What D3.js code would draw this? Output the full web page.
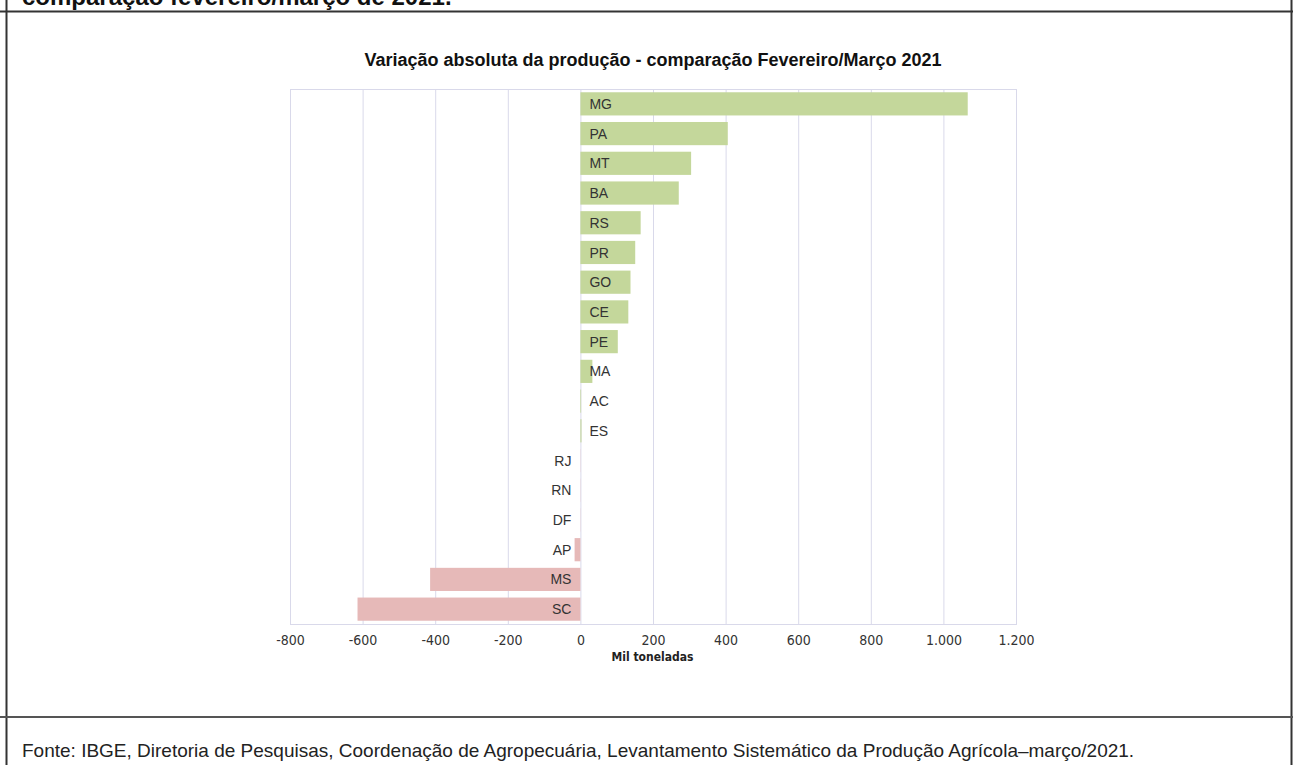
<!DOCTYPE html>
<html>
<head>
<meta charset="utf-8">
<script src="https://cdn.jsdelivr.net/npm/d3@7"></script>
<style>
  html, body { margin: 0; padding: 0; background: #fff; }
  svg { display: block; }
  .cond { font-family: "Liberation Sans Narrow", "Arial Narrow", "DejaVu Sans Condensed", sans-serif; font-stretch: condensed; }
</style>
</head>
<body>
<svg id="chart" width="1293" height="765"></svg>
<script>
// ---- data ----
const states = ["MG","PA","MT","BA","RS","PR","GO","CE","PE","MA","AC","ES","RJ","RN","DF","AP","MS","SC"];
const values = [1067, 406, 305, 271, 166, 151, 138, 132, 103, 33, 2, 3, -0.5, -0.5, -0.5, -16, -414, -614];
const tickValues = [-800, -600, -400, -200, 0, 200, 400, 600, 800, 1000, 1200];
const chartTitle = "Variação absoluta da produção - comparação Fevereiro/Março 2021";
const axisTitle = "Mil toneladas";
const headerText = "comparação fevereiro/março de 2021.";
const sourceText = "Fonte: IBGE, Diretoria de Pesquisas, Coordenação de Agropecuária, Levantamento Sistemático da Produção Agrícola–março/2021.";

const svg = d3.select("#chart");
const W = 1293, H = 765;
const plot = { left: 290, right: 1016, top: 89, bottom: 624 };

// frame
svg.append("text").attr("x", 22).attr("y", 5)
  .attr("font-family", "Liberation Sans, Arial, sans-serif")
  .attr("font-weight", "bold").attr("font-size", 24).attr("fill", "#111")
  .text(headerText);
svg.append("line").attr("x1", 0).attr("x2", W).attr("y1", 11.5).attr("y2", 11.5)
  .attr("stroke", "#333").attr("stroke-width", 2);
svg.append("line").attr("x1", 6.5).attr("x2", 6.5).attr("y1", 0).attr("y2", H)
  .attr("stroke", "#333").attr("stroke-width", 2);
svg.append("line").attr("x1", W - 1.5).attr("x2", W - 1.5).attr("y1", 0).attr("y2", H)
  .attr("stroke", "#333").attr("stroke-width", 2);
svg.append("line").attr("x1", 0).attr("x2", W).attr("y1", 717).attr("y2", 717)
  .attr("stroke", "#555").attr("stroke-width", 2);
svg.append("text").attr("x", 22).attr("y", 757)
  .attr("font-family", "Liberation Sans, Arial, sans-serif")
  .attr("font-size", 19).attr("fill", "#222")
  .text(sourceText);

// scales
const x = d3.scaleLinear().domain([-800, 1200]).range([plot.left, plot.right]);
const y = d3.scaleBand().domain(states).range([plot.top, plot.bottom])
  .paddingInner(0.22).paddingOuter(0.11);

const locale = d3.formatLocale({ decimal: ",", thousands: ".", grouping: [3], currency: ["", ""], minus: "-" });
const fmt = locale.format(",d");

// gridlines
svg.append("g").selectAll("line").data(tickValues).join("line")
  .attr("x1", d => x(d) + 0.5).attr("x2", d => x(d) + 0.5)
  .attr("y1", plot.top).attr("y2", plot.bottom)
  .attr("stroke", "#d9d9ea").attr("stroke-width", 1);
svg.append("rect")
  .attr("x", plot.left + 0.5).attr("y", plot.top + 0.5)
  .attr("width", plot.right - plot.left).attr("height", plot.bottom - plot.top)
  .attr("fill", "none").attr("stroke", "#d9d9ea");

// bars
const data = states.map((s, i) => ({ s, v: values[i] }));
svg.append("g").selectAll("rect").data(data).join("rect")
  .attr("x", d => x(Math.min(0, d.v)))
  .attr("width", d => Math.abs(x(d.v) - x(0)))
  .attr("y", d => y(d.s))
  .attr("height", y.bandwidth())
  .attr("fill", d => d.v >= 0 ? "#c4d79b" : "#e6b9b8");

// labels
svg.append("g").selectAll("text").data(data).join("text")
  .attr("x", d => d.v >= 0 ? x(0) + 9 : x(0) - 9)
  .attr("y", d => y(d.s) + y.bandwidth() / 2)
  .attr("dy", "0.36em")
  .attr("text-anchor", d => d.v >= 0 ? "start" : "end")
  .attr("font-family", "Liberation Sans, Arial, sans-serif")
  .attr("font-size", 14).attr("fill", "#333")
  .text(d => d.s);

// x axis
const axis = d3.axisBottom(x).tickValues(tickValues).tickFormat(fmt).tickSize(0).tickPadding(11);
const gx = svg.append("g").attr("transform", `translate(0,${plot.bottom})`).call(axis);
gx.select(".domain").remove();
gx.selectAll("text").attr("class", "cond").attr("font-size", 14).attr("fill", "#333")
  .attr("font-family", null);

svg.append("text").attr("class", "cond")
  .attr("x", x(200) - 0.5).attr("y", 661)
  .attr("text-anchor", "middle").attr("font-weight", "bold").attr("font-size", 12).attr("fill", "#222")
  .text(axisTitle);

// title
svg.append("text").attr("x", x(200)).attr("y", 66)
  .attr("text-anchor", "middle")
  .attr("font-family", "Liberation Sans, Arial, sans-serif")
  .attr("font-weight", "bold").attr("font-size", 18).attr("fill", "#111")
  .text(chartTitle);
</script>
</body>
</html>
